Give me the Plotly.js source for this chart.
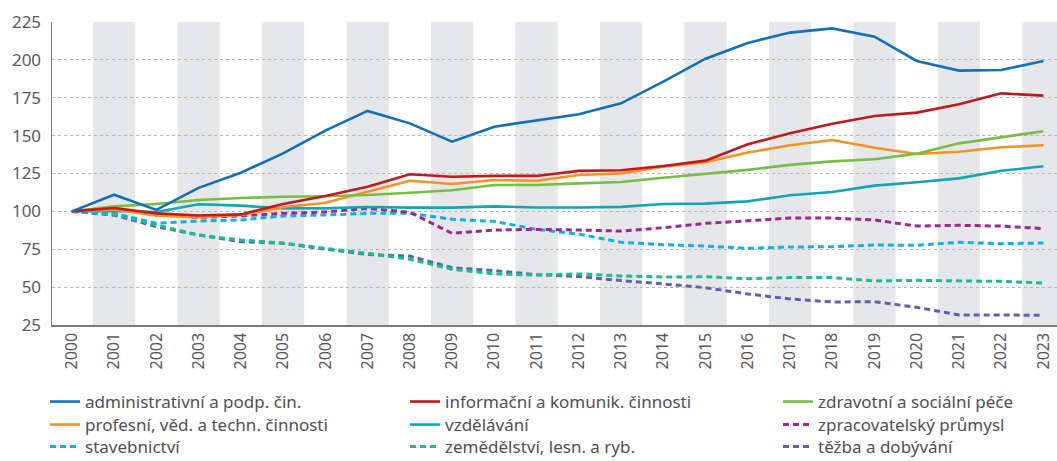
<!DOCTYPE html>
<html><head><meta charset="utf-8">
<script src="https://cdn.plot.ly/plotly-3.0.1.min.js"></script>
<style>html,body{margin:0;padding:0;background:#fff}#chart{width:1057px;height:461px}</style>
</head><body><div id="chart"></div>
<script>
const years = [2000,2001,2002,2003,2004,2005,2006,2007,2008,2009,2010,2011,2012,2013,2014,2015,2016,2017,2018,2019,2020,2021,2022,2023];

const administrativni = [100,111,101,115.5,125.5,138.3,153.3,166.3,158.1,146,155.9,159.9,164.1,171.3,185.6,200.8,211.2,218,220.8,215.3,199.3,192.9,193.3,199.3];
const informacni      = [100,102.2,98.7,97.3,98,104.9,110.1,116.3,124.5,122.9,123.4,123.4,126.7,127.1,130,133.5,144.3,151.5,157.9,163,165.2,170.7,177.9,176.4];
const zdravotni       = [100,103.3,104.9,107.5,108.8,109.7,110,110.8,112.3,113.9,117.4,117.4,118.5,119.4,122.2,124.8,127.4,130.7,133,134.4,138.1,144.9,148.9,152.9];
const profesni        = [100,101.2,97.2,96.1,97.6,102.7,105.7,113,120.2,118.1,120.7,120.2,124,125.1,129.5,132.5,138.8,143.6,147.1,142,137.9,139.4,142.3,143.6];
const vzdelavani      = [100,100.2,99.6,104.7,103.8,102,102,102.9,102.5,102.5,103.3,102.6,102.6,103,104.9,105.1,106.6,110.6,112.8,117,119.2,121.8,126.8,129.8];
const zpracovatelsky  = [100,101.6,98.1,96,97,98.7,99.6,102,99.4,85.5,87.7,88.1,87.7,87,89.2,92.1,93.8,95.6,95.6,94.3,90.3,90.8,90.3,88.6];
const stavebnictvi    = [100,98.7,92.1,93.6,94.3,97,97.6,98.7,98.7,94.8,93.4,88.1,85,79.6,78,77.1,75.6,76.5,76.7,77.8,77.6,79.6,78.7,79.1];
const zemedelstvi     = [100,98.1,91,84.4,81.1,79,75.6,72.3,68.4,61.8,58.7,58,58.7,57.4,56.7,56.8,55.6,56.3,56.3,54.1,54.5,54.1,53.8,52.7];
const tezba           = [100,97.5,89.9,84.4,80,79,75,71.5,70.5,62.8,60.9,58.2,57,54.3,52.1,49.6,45.5,42.2,40.2,40.4,36.7,31.6,31.6,31.4];

const names = ["administrativní a podp. čin.","informační a komunik. činnosti","zdravotní a sociální péče",
  "profesní, věd. a techn. činnosti","vzdělávání","zpracovatelský průmysl",
  "stavebnictví","zemědělství, lesn. a ryb.","těžba a dobývání"];
const yTicks = [25,50,75,100,125,150,175,200,225];

const FONT = "Noto Sans, sans-serif";
const DASH = "6px,4px";
const legendCols = [45, 405, 778];
const legendRows = [402, 425, 447];
function tr(y, idx, color, dash) {
  return {x: years, y: y, name: names[idx], type: "scatter", mode: "lines",
    line: {color: color, width: dash ? 3 : 2.6, dash: dash || "solid"},
    legend: idx === 0 ? "legend" : "legend" + (idx + 1), hoverinfo: "skip"};
}
const data = [
  tr(tezba, 8, "#5a63b3", DASH),
  tr(zemedelstvi, 7, "#1bbd8f", DASH),
  tr(stavebnictvi, 6, "#0db0ec", DASH),
  tr(zpracovatelsky, 5, "#a3258f", DASH),
  tr(vzdelavani, 4, "#10a5b9", null),
  tr(profesni, 3, "#f29325", null),
  tr(zdravotni, 2, "#77bd43", null),
  tr(informacni, 1, "#c1191f", null),
  tr(administrativni, 0, "#1170bb", null)
];

const shapes = years.filter(y => y % 2 === 1).map(y => ({
  type: "rect", xref: "x", yref: "paper", x0: y - 0.5, x1: y + 0.5, y0: 0, y1: 1,
  fillcolor: "#e6e7e8", line: {width: 0}, layer: "below"
}));

function leg(px, py) {
  return {xref: "container", yref: "container", x: px / 1057, y: 1 - py / 461,
    xanchor: "left", yanchor: "middle", orientation: "v",
    font: {family: FONT, size: 17, color: "#505052"}, bgcolor: "rgba(0,0,0,0)"};
}

const layout = {
  width: 1057, height: 461,
  margin: {l: 52, r: 0, t: 22, b: 136, autoexpand: false},
  paper_bgcolor: "#fff", plot_bgcolor: "rgba(0,0,0,0)",
  font: {family: FONT, color: "#58595b"},
  showlegend: true,
  xaxis: {range: [1999.53, 2023.32], tickmode: "array", tickvals: years, ticktext: years.map(String),
    tickangle: -90, tickfont: {size: 16, color: "#58595b"}, showgrid: false, zeroline: false,
    showline: true, linecolor: "#7a7a7a", linewidth: 1.5, ticks: "", fixedrange: true},
  yaxis: {range: [25, 225], tickmode: "array", tickvals: yTicks, tickfont: {size: 17, color: "#58595b"},
    showgrid: true, gridcolor: "#b5b5b5", griddash: "dot", gridwidth: 1, zeroline: false,
    showline: true, linecolor: "#7a7a7a", linewidth: 1.5, ticks: "", ticklabelstandoff: 6, fixedrange: true},
  shapes: shapes
};
for (let i = 0; i < 9; i++) {
  const key = i === 0 ? "legend" : "legend" + (i + 1);
  layout[key] = leg(legendCols[i % 3], legendRows[Math.floor(i / 3)]);
}

Plotly.newPlot("chart", data, layout, {displayModeBar: false, staticPlot: true});
</script></body></html>
